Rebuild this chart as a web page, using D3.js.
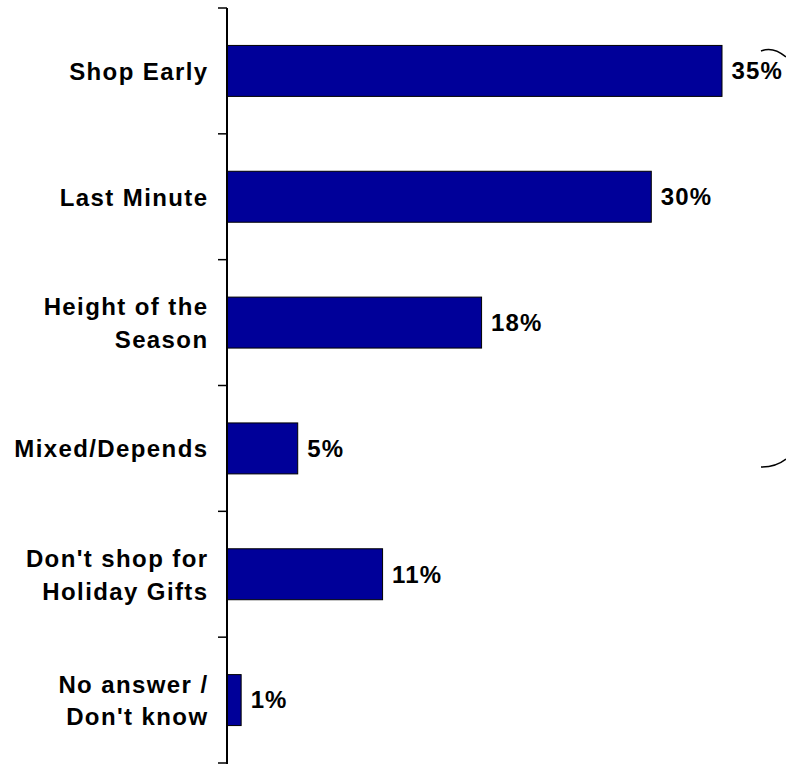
<!DOCTYPE html>
<html>
<head>
<meta charset="utf-8">
<script src="https://cdn.jsdelivr.net/npm/d3@7"></script>
<style>
  html, body { margin: 0; padding: 0; background: #fff; }
  svg { display: block; }
  text { font-family: "Liberation Sans", Arial, sans-serif; font-weight: bold; fill: #000; letter-spacing: 1.4px; }
</style>
</head>
<body>
<svg id="chart" width="786" height="764"></svg>
<script>
// Holiday shopping timing, share of respondents
const categories = [
  ["Shop Early"],
  ["Last Minute"],
  ["Height of the", "Season"],
  ["Mixed/Depends"],
  ["Don't shop for", "Holiday Gifts"],
  ["No answer /", "Don't know"]
];
const values = [35, 30, 18, 5, 11, 1];
const valueLabels = ["35%", "30%", "18%", "5%", "11%", "1%"];

const svg = d3.select("#chart");
const axisX = 227;
const fontSize = 24;

const keys = categories.map(c => c.join(" "));
const y = d3.scaleBand().domain(keys).range([8, 763]).padding(0);
const x = d3.scaleLinear().domain([0, 35]).range([axisX, 722]);
const barH = y.bandwidth() * 0.405;

// bars
svg.append("g").selectAll("rect")
  .data(values)
  .join("rect")
  .attr("x", x(0))
  .attr("y", (d, i) => y(keys[i]) + (y.bandwidth() - barH) / 2)
  .attr("width", d => x(d) - x(0))
  .attr("height", barH)
  .attr("fill", "#000099")
  .attr("stroke", "#000")
  .attr("stroke-width", 1);

// value labels
svg.append("g").selectAll("text")
  .data(values)
  .join("text")
  .attr("x", d => x(d) + 9.5)
  .attr("y", (d, i) => y(keys[i]) + y.bandwidth() / 2 + 8.3)
  .attr("font-size", fontSize)
  .style("letter-spacing", "1.1px")
  .text((d, i) => valueLabels[i]);

// category axis with ticks on band boundaries
const axisG = svg.append("g");
axisG.append("line")
  .attr("x1", axisX).attr("x2", axisX)
  .attr("y1", y.range()[0]).attr("y2", 770)
  .attr("stroke", "#000").attr("stroke-width", 2);
const boundaries = keys.map(k => y(k)).concat([y.range()[1]]);
axisG.selectAll("line.tick")
  .data(boundaries)
  .join("line")
  .attr("class", "tick")
  .attr("x1", axisX - 9).attr("x2", axisX)
  .attr("y1", d => d).attr("y2", d => d)
  .attr("stroke", "#000").attr("stroke-width", 1.5);

// category labels
const lineGap = 32.7;
const labelX = 208.5;
const labels = svg.append("g").selectAll("text")
  .data(categories)
  .join("text")
  .attr("text-anchor", "end")
  .attr("font-size", fontSize)
  .attr("x", labelX)
  .attr("y", (d, i) => y(keys[i]) + y.bandwidth() / 2 + 9 - (d.length - 1) * lineGap / 2);
labels.selectAll("tspan")
  .data(d => d)
  .join("tspan")
  .attr("x", labelX)
  .attr("dy", (d, j) => j === 0 ? 0 : lineGap)
  .text(d => d);

// bracket arcs at the right edge
const arcs = svg.append("g").attr("fill", "none").attr("stroke", "#000").attr("stroke-width", 1.5);
arcs.append("path").attr("d", "M761,51 Q773,46 786,57");
arcs.append("path").attr("d", "M761,467 Q776,467 786,459");
</script>
</body>
</html>
